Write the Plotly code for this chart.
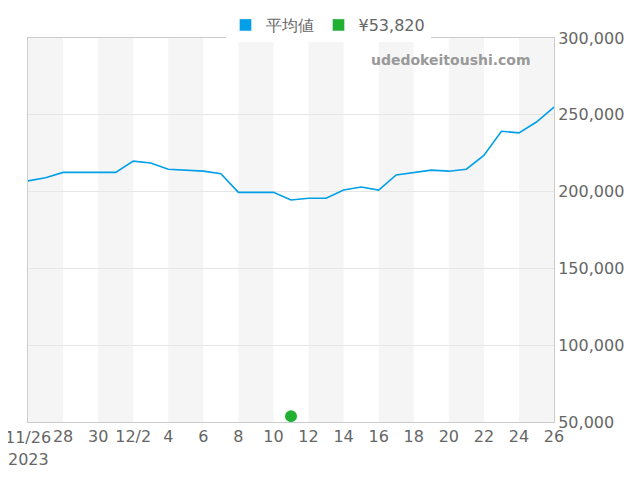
import plotly.graph_objects as go
import pandas as pd

dates = pd.date_range("2023-11-26", "2023-12-26", freq="D")
avg = [207000, 209000, 212500, 212500, 212500, 212500, 219800, 218600, 214500, 214000,
       213300, 211600, 199500, 199500, 199500, 194500, 195700, 195700, 201000, 203000,
       201000, 210800, 212600, 214000, 213300, 214600, 223500, 239300, 238200, 245300, 255000]
sale_date = ["2023-12-11"]
sale_price = [53820]

fig = go.Figure()
fig.add_trace(go.Scatter(x=dates, y=avg, mode="lines", showlegend=False,
                         line=dict(color="#009fe8", width=1.6)))
fig.add_trace(go.Scatter(x=sale_date, y=sale_price, mode="markers", showlegend=False,
                         marker=dict(color="#22b033", size=12)))
# legend swatches as boxes
fig.add_trace(go.Bar(x=[None], y=[None], name="平均値", marker_color="#009fe8"))
fig.add_trace(go.Bar(x=[None], y=[None], name="¥53,820", marker_color="#22b033"))

# alternating background bands every two days
for i in range(0, 30, 4):
    fig.add_vrect(x0=dates[i], x1=dates[min(i + 2, 30)], fillcolor="#f5f5f5",
                  line_width=0, layer="below")

ticks = dates[2::2]
labels = [("12/" + str(d.day)) if d.day == 2 else str(d.day) for d in ticks]

fig.update_layout(
    width=640, height=480, plot_bgcolor="white", paper_bgcolor="white",
    margin=dict(l=20, r=94, t=30, b=66, autoexpand=False),
    font=dict(family="DejaVu Sans", size=16, color="#666"),
    legend=dict(orientation="h", x=0.5, xanchor="center", xref="container",
                y=1.0, yanchor="top", yref="container", font=dict(size=16)),
    xaxis=dict(range=[dates[0], dates[-1]], tickvals=ticks, ticktext=labels, tickangle=0,
               showgrid=False, showline=True, linecolor="#ccc", mirror=True, ticks=""),
    yaxis=dict(side="right", range=[50000, 300000], dtick=50000, tickformat=",",
               gridcolor="#e6e6e6", showline=True, linecolor="#ccc", mirror=True),
    annotations=[
        dict(text="<b>udedokeitoushi.com</b>", xref="paper", yref="paper", x=0.96, y=0.97,
             xanchor="right", yanchor="top", showarrow=False,
             font=dict(size=14, color="#999", family="DejaVu Sans")),
        dict(text="11/26", x=dates[0], xref="x", y=0, yref="paper", yanchor="top",
             yshift=-4, showarrow=False, font=dict(size=16, color="#666")),
        dict(text="2023", x=dates[0], xref="x", y=0, yref="paper", yanchor="top",
             yshift=-26, showarrow=False, font=dict(size=16, color="#666")),
    ],
)
fig.write_html("out.html")
